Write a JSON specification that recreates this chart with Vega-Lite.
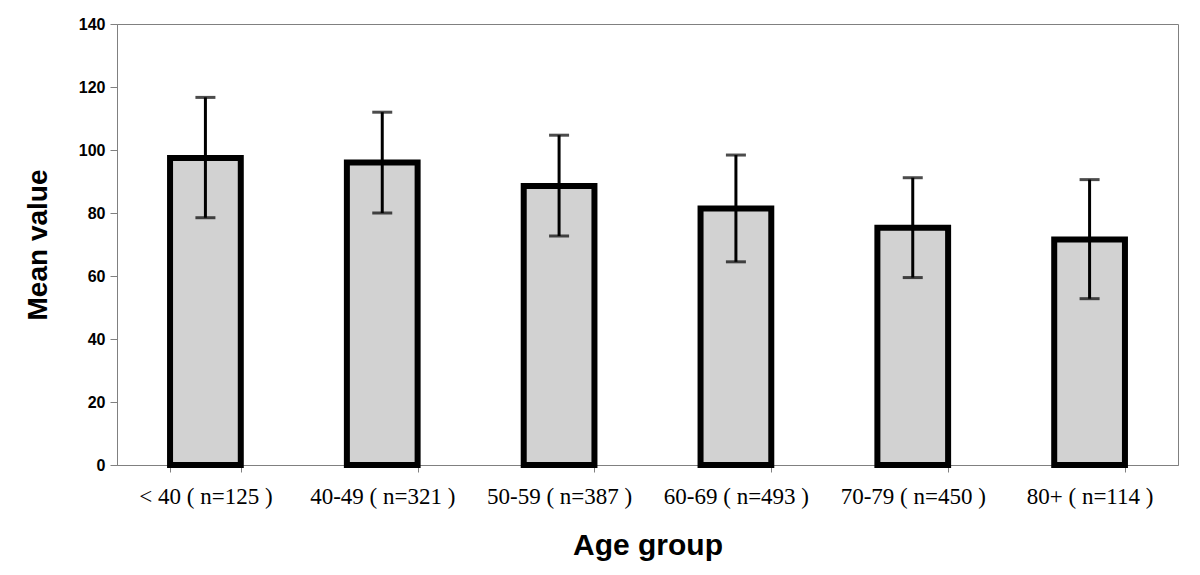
{
  "$schema": "https://vega.github.io/schema/vega-lite/v6.json",
  "autosize": "none",
  "width": 1061,
  "height": 441,
  "padding": {"left": 117, "top": 24, "right": 22, "bottom": 110},
  "background": "white",
  "config": {
    "view": {"stroke": "#808080", "strokeWidth": 1},
    "axis": {"grid": false, "domainColor": "#808080", "tickColor": "#808080", "labelColor": "black", "titleColor": "black"}
  },
  "data": {
    "values": [
      {"group": "< 40  ( n=125 )", "mean": 97.5, "lo": 78.5, "hi": 116.7},
      {"group": "40-49 ( n=321 )", "mean": 96.0, "lo": 80.0, "hi": 112.0},
      {"group": "50-59 ( n=387 )", "mean": 88.6, "lo": 72.7, "hi": 104.7},
      {"group": "60-69 ( n=493 )", "mean": 81.4, "lo": 64.5, "hi": 98.4},
      {"group": "70-79 ( n=450 )", "mean": 75.3, "lo": 59.5, "hi": 91.2},
      {"group": "80+ ( n=114 )", "mean": 71.6, "lo": 52.8, "hi": 90.6}
    ]
  },
  "encoding": {
    "x": {
      "field": "group", "type": "nominal", "sort": null,
      "scale": {"paddingInner": 0.6, "paddingOuter": 0.3},
      "axis": {
        "title": "Age group", "titleFont": "Liberation Sans", "titleFontSize": 30, "titleFontWeight": "bold", "titlePadding": 22,
        "labelFont": "Liberation Serif", "labelFontSize": 23, "labelFontWeight": "normal", "labelAngle": 0, "labelPadding": 13,
        "tickBand": "extent", "tickSize": 7, "domainColor": "#808080"
      }
    }
  },
  "layer": [
    {
      "mark": {"type": "bar", "fill": "#d2d2d2", "stroke": "black", "strokeWidth": 6, "strokeJoin": "miter"},
      "encoding": {
        "y": {
          "field": "mean", "type": "quantitative",
          "scale": {"domain": [0, 140]},
          "axis": {
            "title": "Mean value", "titleFont": "Liberation Sans", "titleFontSize": 28, "titleFontWeight": "bold", "titlePadding": 26,
            "labelFont": "Liberation Sans", "labelFontSize": 16, "labelFontWeight": "bold", "values": [0, 20, 40, 60, 80, 100, 120, 140],
            "tickSize": 7, "labelPadding": 5
          }
        }
      }
    },
    {
      "mark": {"type": "rule", "color": "black", "strokeWidth": 3},
      "encoding": {
        "y": {"field": "lo", "type": "quantitative"},
        "y2": {"field": "hi"}
      }
    },
    {
      "mark": {"type": "tick", "color": "black", "thickness": 3, "size": 20},
      "encoding": {"y": {"field": "lo", "type": "quantitative"}}
    },
    {
      "mark": {"type": "tick", "color": "black", "thickness": 3, "size": 20},
      "encoding": {"y": {"field": "hi", "type": "quantitative"}}
    }
  ]
}
